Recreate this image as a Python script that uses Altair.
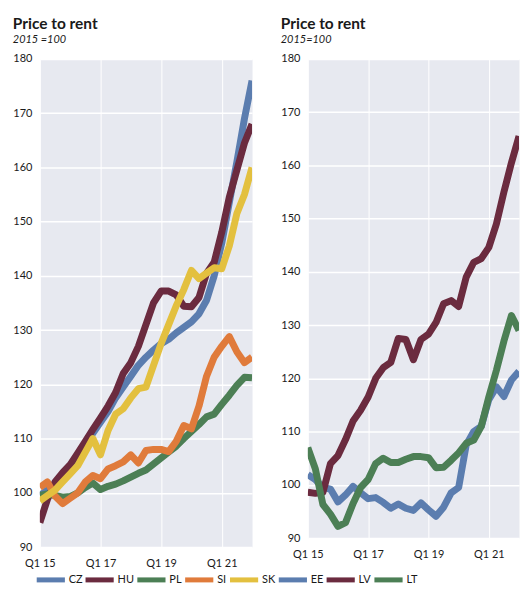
import altair as alt
import pandas as pd

# Quarterly categories, Q1 2015 to Q1 2022
quarters = [f"Q{q} {y}" for y in range(15, 23) for q in range(1, 5)][:29]
tick_labels = ["Q1 15", "Q1 17", "Q1 19", "Q1 21"]

# Price-to-rent indices, 2015 = 100
cz = [99.5, 100.5, 101.5, 102.5, 104, 106, 108.5, 111, 113, 115, 117.5, 119.5, 121.5, 123.5, 125,
      126.3, 127.5, 128.3, 129.5, 130.5, 131.5, 133, 135.5, 140, 146, 153.5, 161, 169, 176]
hu = [94.5, 98.8, 102, 103.7, 105.2, 107.3, 109.5, 111.7, 113.8, 116, 118.5, 122, 124, 127, 131,
      135, 137.2, 137.2, 136.5, 134.4, 134.3, 136, 140.5, 142.5, 148, 154.5, 159.5, 164.5, 168]
pl = [99.5, 99.8, 99.5, 99.2, 99.3, 100, 101, 101.8, 100.6, 101.2, 101.6, 102.2, 102.9, 103.6, 104.2,
      105.3, 106.4, 107.5, 108.6, 110, 111.3, 112.6, 114, 114.5, 116.3, 118, 119.8, 121.3, 121.2]
si = [101, 102, 99.4, 98, 99, 100, 102, 103.2, 102.6, 104.4, 105, 105.7, 107, 105.5, 107.8,
      108, 108, 107.6, 109.5, 112.4, 111.8, 116, 121.5, 125, 127, 128.8, 126, 124, 125]
sk = [98.5, 99.5, 100.5, 102, 103.5, 105, 107.5, 110, 107, 111.5, 114.5, 115.5, 117.5, 119.2, 119.5,
      123.5, 127.5, 131, 134.5, 137.5, 141, 139.5, 140.5, 141.5, 141.3, 145.5, 151.5, 155, 160]

ee = [101.9, 101, 99.5, 99.2, 96.8, 98.1, 99.7, 98.5, 97.4, 97.6, 96.7, 95.6, 96.4, 95.6, 95.2,
      96.6, 95.3, 94.1, 95.8, 98.5, 99.5, 107.5, 110, 111, 116, 118.4, 116.6, 119.7, 121.3]
lv = [98.6, 98.4, 98.6, 104, 105.5, 108.5, 112, 114, 116.5, 120, 122, 123, 127.5, 127.3, 123.5,
      127.3, 128.3, 130.5, 134, 134.6, 133.5, 139, 141.8, 142.5, 144.6, 149, 155, 160.5, 165.5]
lt = [107, 103, 96.3, 94.5, 92.2, 92.9, 96.5, 99.5, 101, 104, 105, 104.2, 104.2, 104.8, 105.3,
      105.3, 105.1, 103.2, 103.3, 104.6, 106, 107.8, 108.4, 111, 116.5, 121.5, 127, 131.8, 129]

left_names = ["CZ", "HU", "PL", "SI", "SK"]
left_series = [cz, hu, pl, si, sk]
left_colors = ["#5B7DAF", "#6B2B3F", "#4C7F55", "#E07B3B", "#E3C03F"]

right_names = ["EE", "LV", "LT"]
right_series = [ee, lv, lt]
right_colors = ["#5B7DAF", "#6B2B3F", "#4C7F55"]

FONT = "Lato"
TEXT = "#1a1a1a"


def long_frame(names, series):
    rows = []
    for name, vals in zip(names, series):
        for q, v in zip(quarters, vals):
            rows.append({"quarter": q, "country": name, "value": v})
    return pd.DataFrame(rows)


def panel(names, series, colors, subtitle, w, h, legend_x, legend_y):
    df = long_frame(names, series)
    return alt.Chart(df).mark_line(
        strokeWidth=7, strokeJoin="round", strokeCap="butt", clip=True
    ).encode(
        x=alt.X("quarter:O", sort=quarters,
                scale=alt.Scale(type="point", padding=0),
                axis=alt.Axis(values=tick_labels, labelAngle=0, title=None, ticks=False,
                              domain=False, labelFlush=False, labelPadding=11,
                              grid=True, gridColor="white", gridWidth=1)),
        y=alt.Y("value:Q", scale=alt.Scale(domain=[90, 180], nice=False),
                axis=alt.Axis(values=list(range(90, 181, 10)), title=None, ticks=False,
                              domain=False, labelPadding=8, labelFlush=False,
                              grid=True, gridColor="white", gridWidth=1.5)),
        color=alt.Color("country:N", sort=names,
                        scale=alt.Scale(domain=names, range=colors),
                        legend=alt.Legend(title=None, orient="none", direction="horizontal",
                                          legendX=legend_x, legendY=legend_y,
                                          symbolType="stroke", symbolSize=800,
                                          symbolStrokeWidth=5, labelOffset=1,
                                          columnPadding=-8, labelFontSize=11,
                                          labelFont=FONT, labelColor=TEXT)),
        order=alt.Order("country:N"),
    ).properties(
        width=w, height=h,
        title=alt.TitleParams(text="Price to rent", subtitle=subtitle, anchor="start",
                              frame="bounds", font=FONT, fontSize=15.5, fontWeight="bold",
                              color=TEXT, subtitleFont=FONT, subtitleFontSize=11,
                              subtitleFontStyle="italic", subtitleColor=TEXT,
                              subtitlePadding=2, offset=8),
    )


left = panel(left_names, left_series, left_colors, "\u00a02015 =100", 213, 490, -6, 506)
right = panel(right_names, right_series, right_colors, "2015=100", 212, 481, 5, 507)

chart = alt.hconcat(left, right, spacing=56, bounds="flush").configure(
    padding={"left": 12, "top": 15, "right": 0, "bottom": 0},
    background="white",
).configure_view(
    fill="#E7E9F0", stroke="transparent"
).configure_axis(
    labelFont=FONT, labelFontSize=11, labelColor=TEXT
)

chart.save("out.html", embed_options={"renderer": "svg", "actions": False})
